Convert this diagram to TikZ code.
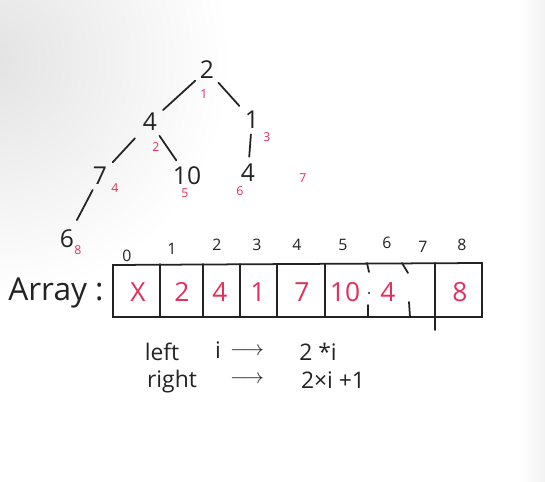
\documentclass[tikz,border=0pt]{standalone}
\usepackage{fontspec}
\setmainfont{Open Sans}
\definecolor{ink}{RGB}{35,35,35}
\definecolor{pen}{RGB}{226,48,92}

\tikzset{
  key/.style={text=ink, font=\fontsize{14}{14}\selectfont, inner sep=1pt},
  slot/.style={text=pen, font=\fontsize{7}{7}\selectfont, inner sep=0pt},
  cell/.style={text=pen, font=\fontsize{15}{15}\selectfont, inner sep=0pt},
  idx/.style={text=ink, font=\fontsize{9}{9}\selectfont, inner sep=0pt},
  note/.style={text=ink, font=\fontsize{13}{13}\selectfont, inner sep=0pt},
  link/.style={draw=ink, line width=1pt, shorten <=2pt, shorten >=3pt},
  arraybox/.style={draw=ink, line width=1pt},
}

\begin{document}
\begin{tikzpicture}[x=0.02cm, y=-0.02cm, line cap=round]
  % whiteboard
  \fill[white] (0,0) rectangle (545,482);
  \begin{scope}
    \clip (0,0) rectangle (545,482);
    \shade[inner color=gray!22, outer color=white] (-10,60) circle (240);
    \shade[left color=white, right color=gray!10] (520,0) rectangle (545,482);
  \end{scope}

  % heap as a tree
  \node[key] (n1) at (207,70)  {2};
  \node[key] (n2) at (150,122) {4};
  \node[key] (n3) at (252,120) {1};
  \node[key] (n4) at (100,176) {7};
  \node[key] (n5) at (187,176) {10};
  \node[key] (n6) at (248,173) {4};
  \node[key] (n8) at (67,239)  {6};

  \draw[link] (n1) -- (n2);
  \draw[link] (n1) -- (n3);
  \draw[link, shorten <=5pt] (n2) -- (n4);
  \draw[link] (n2) -- (n5);
  \draw[link] (n3) -- (n6);
  \draw[link, shorten >=5pt] (n4) -- (n8);

  % positions in red
  \node[slot] (p1) at (204,94)  {1};
  \node[slot] (p2) at (156,147) {2};
  \node[slot] (p3) at (267,137) {3};
  \node[slot] (p4) at (115,188) {4};
  \node[slot] (p5) at (185,193) {5};
  \node[slot] (p6) at (240,191) {6};
  \node[slot] (p7) at (303,178) {7};
  \node[slot] (p8) at (78,250)  {8};

  % array
  \node[note, font=\fontsize{18}{18}\selectfont] (arr) at (56,293) {Array :};
  \draw[arraybox] (113,265) -- (482,263) -- (482,317) -- (113,317) -- cycle;
  \foreach \x in {160,203,240,277,325}
    \draw[arraybox] (\x,264) -- (\x,317);
  \draw[arraybox] (367,263) -- (369,272);
  \fill[ink] (369,293) circle (1.2);
  \draw[arraybox] (368,305) -- (368,317);
  \draw[arraybox] (402,263) -- (408,273);
  \draw[arraybox] (409,302) -- (410,317);
  \draw[arraybox] (435,263) -- (435,330);

  \foreach \x/\v [count=\i from 0] in {138/X,182/2,220/4,258/1,302/7,345/10,388/4,421/,460/8}
    \node[cell] (c\i) at (\x,292) {\v};
  \foreach \x/\y [count=\i from 0] in {127/256,172/249,217/245,257/245,297/245,343/245,387/243,423/247,462/245}
    \node[idx] (i\i) at (\x,\y) {\i};

  % children of i
  \node[note] (lf) at (162,352) {left};
  \node[note] (iv) at (218,350) {i};
  \node[note] (la) at (247,352) {$\longrightarrow$};
  \node[note] (lx) at (318,352) {2 *i};
  \node[note] (rt) at (172,382) {right};
  \node[note] (ra) at (247,380) {$\longrightarrow$};
  \node[note] (rx) at (333,380) {2×i +1};

  \useasboundingbox (0,0) rectangle (545,482);
\end{tikzpicture}
\end{document}
